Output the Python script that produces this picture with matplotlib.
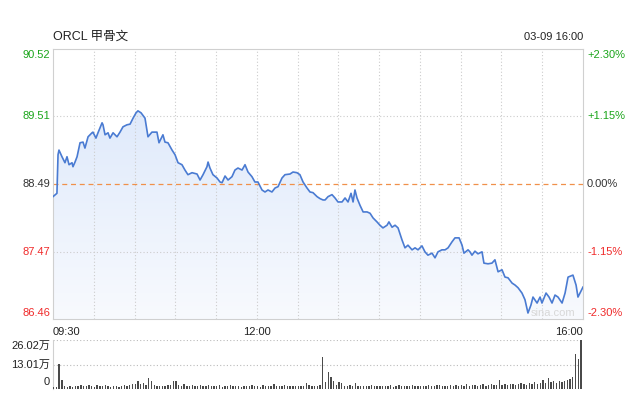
import matplotlib
matplotlib.use("Agg")
import matplotlib.pyplot as plt
import numpy as np
from matplotlib.colors import LinearSegmentedColormap

plt.rcParams["font.family"] = ["Liberation Sans", "Noto Sans CJK SC", "DejaVu Sans"]

prev_close = 88.49
y_ticks = [90.52, 89.51, 88.49, 87.47, 86.46]
pct_labels = ["+2.30%", "+1.15%", "0.00%", "-1.15%", "-2.30%"]
vol_labels = ["26.02万", "13.01万", "0"]

# minutes after 09:30 and price
minutes = [0.0, 2.9, 3.7, 4.4, 6.6, 8.8, 10.3, 11.8, 14.0, 14.7, 16.2, 17.7, 19.9, 22.1,
           23.5, 25.8, 28.7, 29.4, 31.6, 33.1, 36.1, 36.8, 38.3, 40.5, 41.9, 44.2, 47.1,
           49.3, 51.5, 54.4, 56.7, 58.9, 61.1, 62.5, 64.8, 67.7, 69.9, 72.8, 76.5, 78.0,
           80.9, 82.4, 84.6, 87.6, 89.8, 92.0, 94.9, 97.1, 99.3, 102.3, 106.0, 108.2,
           110.4, 113.3, 114.1, 115.5, 117.7, 120.7, 122.9, 124.4, 126.6, 128.8, 131.7,
           133.9, 136.1, 139.1, 141.3, 143.5, 146.4, 148.6, 150.8, 153.8, 156.0, 158.2,
           161.1, 163.4, 165.6, 168.5, 170.7, 174.4, 176.6, 179.5, 181.7, 184.0, 186.9,
           189.1, 191.3, 194.3, 196.5, 198.7, 200.2, 202.4, 205.3, 207.5, 209.7, 212.7,
           214.9, 217.1, 219.3, 220.8, 222.2, 223.7, 225.9, 228.2, 231.1, 233.3, 235.5,
           238.4, 240.6, 242.8, 245.8, 247.2, 249.5, 251.7, 253.9, 256.8, 259.0, 261.2,
           264.2, 266.4, 268.6, 271.5, 273.7, 275.9, 278.9, 281.1, 283.3, 286.2, 288.5,
           290.7, 293.6, 295.8, 297.3, 298.8, 301.0, 302.4, 305.4, 306.8, 308.3, 310.5,
           312.7, 315.7, 317.1, 320.1, 323.0, 325.2, 327.5, 330.4, 332.6, 334.8, 337.8,
           340.0, 342.2, 345.1, 347.3, 349.5, 351.7, 353.2, 356.2, 358.4, 359.8, 362.8,
           365.0, 367.2, 369.4, 371.6, 374.6, 376.8, 379.0, 382.6, 384.9, 386.3, 390.0]
prices = [88.30, 88.35, 88.93, 89.00, 88.90, 88.81, 88.90, 88.78, 88.81, 88.75, 88.82,
          88.90, 89.11, 89.12, 89.03, 89.20, 89.26, 89.27, 89.18, 89.26, 89.41, 89.38,
          89.23, 89.26, 89.18, 89.26, 89.20, 89.27, 89.35, 89.38, 89.39, 89.48, 89.56,
          89.59, 89.56, 89.48, 89.20, 89.27, 89.27, 89.11, 89.23, 89.12, 89.11, 89.00,
          88.93, 88.81, 88.78, 88.70, 88.63, 88.66, 88.64, 88.55, 88.63, 88.75, 88.82,
          88.73, 88.63, 88.58, 88.52, 88.51, 88.61, 88.55, 88.60, 88.70, 88.73, 88.70,
          88.78, 88.67, 88.60, 88.52, 88.52, 88.40, 88.37, 88.40, 88.37, 88.43, 88.45,
          88.58, 88.63, 88.64, 88.67, 88.66, 88.63, 88.52, 88.43, 88.37, 88.36, 88.30,
          88.27, 88.25, 88.25, 88.30, 88.33, 88.28, 88.22, 88.22, 88.28, 88.22, 88.35,
          88.22, 88.40, 88.28, 88.17, 88.07, 88.07, 88.05, 87.98, 87.92, 87.87, 87.83,
          87.87, 87.92, 87.84, 87.87, 87.83, 87.65, 87.53, 87.57, 87.50, 87.53, 87.50,
          87.56, 87.47, 87.42, 87.45, 87.38, 87.47, 87.50, 87.50, 87.53, 87.62, 87.68,
          87.68, 87.68, 87.57, 87.45, 87.50, 87.47, 87.42, 87.48, 87.44, 87.47, 87.30,
          87.29, 87.30, 87.35, 87.17, 87.20, 87.09, 87.08, 87.00, 86.97, 86.93, 86.85,
          86.75, 86.55, 86.67, 86.79, 86.70, 86.79, 86.70, 86.85, 86.79, 86.70, 86.82,
          86.79, 86.70, 86.85, 87.09, 87.12, 86.97, 86.79, 86.94]

# volume in 万 shares, one bar per two minutes
volume = [0.8, 1.0, 13.5, 4.7, 1.5, 1.2, 1.4, 1.3, 1.8, 1.5, 2.0, 1.4, 1.6, 2.2, 1.5,
          1.3, 2.0, 1.6, 1.4, 2.3, 1.5, 1.2, 1.8, 1.4, 1.3, 1.6, 1.9, 1.5, 2.2, 2.8,
          2.4, 4.0, 2.5, 3.0, 2.0, 6.0, 4.0, 2.0, 1.5, 1.8, 1.6, 1.4, 1.9, 2.0, 4.2,
          4.2, 2.0, 1.6, 2.5, 1.8, 1.5, 2.3, 1.6, 1.8, 2.0, 1.5, 1.8, 2.2, 1.6, 1.4,
          1.5, 1.9, 1.3, 1.7, 1.5, 2.2, 1.4, 1.6, 1.5, 1.3, 1.6, 1.8, 1.4, 2.0, 1.5,
          1.7, 1.3, 1.9, 1.5, 1.6, 1.4, 2.4, 1.5, 1.7, 1.6, 1.9, 1.4, 1.8, 1.5, 1.6,
          1.4, 1.7, 1.5, 3.0, 2.0, 1.6, 1.8, 1.5, 2.2, 17.0, 3.5, 9.0, 6.5, 4.0, 2.0,
          3.5, 3.0, 1.8, 1.6, 2.0, 1.5, 3.0, 1.7, 1.5, 1.8, 1.4, 1.6, 1.9, 1.5, 1.7,
          1.4, 1.8, 1.5, 1.6, 1.9, 1.3, 1.7, 2.0, 1.5, 1.6, 1.8, 1.4, 2.2, 1.6, 1.5,
          1.8, 1.7, 1.5, 2.0, 1.6, 1.4, 1.9, 2.3, 1.5, 1.8, 1.6, 2.2, 1.7, 1.9, 1.5,
          2.0, 1.8, 2.5, 1.6, 1.9, 2.2, 1.7, 2.0, 2.4, 1.8, 2.1, 2.6, 1.9, 2.3, 5.0,
          2.2, 2.5, 2.0, 2.4, 2.8, 2.1, 2.6, 3.0, 2.4, 2.2, 3.4, 2.6, 3.8, 2.8, 3.0,
          4.8, 3.2, 6.0, 3.6, 4.0, 3.2, 4.2, 3.6, 4.5, 5.0, 5.5, 6.5, 18.5, 16.0, 26.02]
vol_minutes = [2 * i for i in range(len(volume))]

green = "#1aa51a"
red = "#f02a2a"
dark = "#333333"
label_colors = [green, green, dark, red, red]

fig = plt.figure(figsize=(6.35, 3.99), dpi=100)
ax = fig.add_axes([53 / 635, 1 - 319 / 399, 530 / 635, 270 / 399])
axv = fig.add_axes([53 / 635, 1 - 389 / 399, 530 / 635, 49 / 399])

ymin, ymax = y_ticks[-1], y_ticks[0]
ax.set_xlim(0, 390)
ax.set_ylim(ymin, ymax)

# gradient fill under the line
cmap = LinearSegmentedColormap.from_list("fill", ["#f8fafe", "#d8e5fa"])
grad = np.linspace(0, 1, 256).reshape(-1, 1)
img = ax.imshow(grad, cmap=cmap, aspect="auto", origin="lower",
                extent=[0, 390, ymin, ymax], zorder=1)
poly = ax.fill_between(minutes, prices, ymin, color="none", lw=0)
img.set_clip_path(poly.get_paths()[0], transform=ax.transData)

ax.plot(minutes, prices, color="#4a7bd2", lw=1.2, zorder=3)

for m in range(30, 390, 30):
    ax.axvline(m, color="#cccccc", lw=0.8, ls=(0, (1, 2)), zorder=2)
for v in [y_ticks[1], y_ticks[3]]:
    ax.axhline(v, color="#cccccc", lw=0.8, ls=(0, (1, 2)), zorder=2)
ax.axhline(prev_close, color="#f0904a", lw=0.9, ls=(0, (4, 3)), zorder=2)

for s in ax.spines.values():
    s.set_color("#d0d0d0")
ax.set_xticks([])
ax.set_yticks([])

ax.text(0.0, 1.025, "ORCL 甲骨文", transform=ax.transAxes, ha="left", va="bottom",
        fontsize=9, color="#222222")
ax.text(1.0, 1.025, "03-09 16:00", transform=ax.transAxes, ha="right", va="bottom",
        fontsize=8, color="#222222")

offsets = [-6, 0, 0, 0, 6]
for v, pct, c, off in zip(y_ticks, pct_labels, label_colors, offsets):
    ax.annotate(f"{v:.2f}", (0, v), xycoords=("axes fraction", "data"),
                xytext=(-3, off), textcoords="offset pixels",
                ha="right", va="center", fontsize=8, color=c)
    ax.annotate(pct, (1, v), xycoords=("axes fraction", "data"),
                xytext=(4, off), textcoords="offset pixels",
                ha="left", va="center", fontsize=8, color=c)

ax.text(0.0, -0.03, "09:30", transform=ax.transAxes, ha="left", va="top",
        fontsize=8, color="#222222")
ax.text(150 / 390, -0.03, "12:00", transform=ax.transAxes, ha="center", va="top",
        fontsize=8, color="#222222")
ax.text(1.0, -0.03, "16:00", transform=ax.transAxes, ha="right", va="top",
        fontsize=8, color="#222222")
ax.text(0.985, 0.005, "sina.com", transform=ax.transAxes, ha="right", va="bottom",
        fontsize=8, color="#d8d8d8", zorder=4)

# volume panel
axv.set_xlim(0, 390)
axv.set_ylim(0, 26.02)
axv.bar(vol_minutes, volume, width=1.0, color="#4a4a4a", align="edge", zorder=3)
for v in [26.02, 13.01, 0]:
    axv.axhline(v, color="#bbbbbb", lw=0.8, ls=(0, (1, 2)), zorder=2)
for name, s in axv.spines.items():
    s.set_visible(name == "left")
axv.spines["left"].set_color("#d0d0d0")
axv.set_xticks([])
axv.set_yticks([])
vol_offsets = [-6, 0, 7]
for v, lab, off in zip([26.02, 13.01, 0], vol_labels, vol_offsets):
    axv.annotate(lab, (0, v), xycoords=("axes fraction", "data"),
                 xytext=(-3, off), textcoords="offset pixels",
                 ha="right", va="center", fontsize=8, color="#222222")

fig.savefig("out.png", dpi=100)
